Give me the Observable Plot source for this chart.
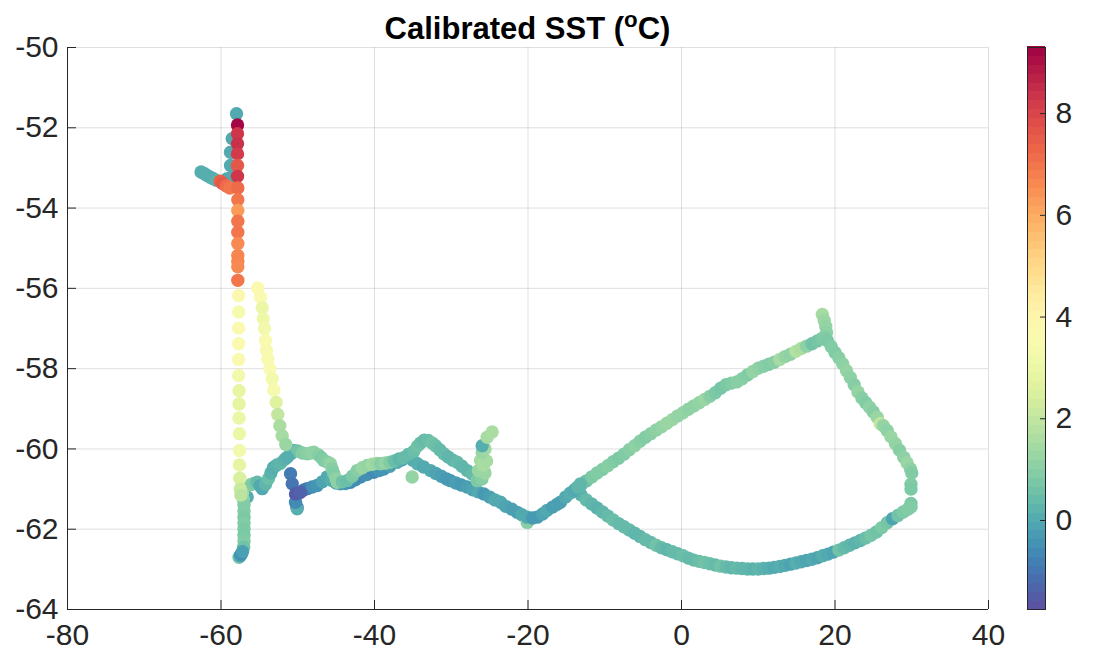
<!DOCTYPE html>
<html><head><meta charset="utf-8">
<script src="https://cdn.jsdelivr.net/npm/d3@7"></script>
<script src="https://cdn.jsdelivr.net/npm/@observablehq/plot@0.6"></script>
<style>
body{margin:0;background:#fff;}
#wrap{position:relative;width:1102px;height:660px;font-family:"Liberation Sans",Arial,sans-serif;overflow:hidden;}
#main,#cbar{position:absolute;top:0;}
#main{left:0;} #cbar{left:1000px;}
#title{position:absolute;left:67px;width:921px;top:11px;text-align:center;font-weight:bold;font-size:31px;color:#000;line-height:36px;}
#title sup{font-size:0.72em;line-height:0;position:relative;top:-0.05em;}
#wrap svg g[aria-label$="tick label"], #wrap svg g[aria-label$="tick label"] text{font-size:30px !important;}
</style></head><body>
<div id="wrap"><div id="main"></div><div id="cbar"></div><div id="title">Calibrated SST (<sup>o</sup>C)</div></div>
<script>
// axis ticks
const xTicks = [-80, -60, -40, -20, 0, 20, 40];
const yTicks = [-64, -62, -60, -58, -56, -54, -52, -50];
const cbTicks = [0, 2, 4, 6, 8];
const sstRange = [-1.75, 9.3];

// track segments: [lon, lat, SST]
const northLeg = [
[-57.98,-51.65,0.0],[-58.54,-52.27,0.0],[-58.76,-52.61,0.0],[-58.76,-52.94,0.0],[-58.76,-53.26,0.0],
[-62.6,-53.10,0.1],[-62.2,-53.14,0.1],[-61.8,-53.19,0.1],[-61.4,-53.23,0.1],[-61.0,-53.27,0.1],[-60.6,-53.31,0.2],[-59.2,-53.27,0.0],
[-57.85,-51.93,9.2],[-57.85,-52.15,8.3],[-57.85,-52.40,8.4],[-57.85,-52.65,8.2],[-57.85,-52.94,7.6],[-57.85,-53.21,8.3],
[-60.1,-53.33,7.4],[-59.84,-53.38,7.6],[-59.3,-53.45,7.2],[-58.85,-53.50,7.0],
[-57.81,-53.50,7.2],[-57.81,-53.79,7.0],[-57.81,-54.06,6.3],[-57.81,-54.33,7.0],[-57.81,-54.60,7.0],[-57.81,-54.88,6.6],
[-57.81,-55.18,6.7],[-57.81,-55.33,6.7],[-57.81,-55.46,6.6],[-57.81,-55.80,7.0]
];
const yellowLeg = [
[-57.7,-56.18,3.9],[-57.7,-56.59,3.4],[-57.7,-56.99,3.8],[-57.7,-57.38,3.7],[-57.7,-57.77,3.7],[-57.7,-58.17,3.3],
[-57.65,-58.55,2.9],[-57.65,-58.88,2.8],[-57.65,-59.23,3.0],[-57.6,-59.62,3.0],[-57.6,-60.04,3.3],[-57.6,-60.40,2.8],
[-57.55,-60.73,2.5],[-57.5,-61.00,2.2],[-57.4,-61.15,1.9]
];
const greenLeg = [
[-57.2,-61.10,1.5],[-57.1,-61.25,1.1],[-57.0,-61.40,0.9],[-57.0,-61.55,0.9],[-57.0,-61.70,0.8],[-57.0,-61.85,0.9],
[-57.0,-62.00,0.8],[-57.0,-62.15,0.8],[-57.0,-62.30,0.9],[-57.05,-62.45,0.6],[-57.65,-62.70,0.7],
[-57.5,-62.66,-0.2],[-57.35,-62.62,-0.5],[-57.2,-62.56,-0.2]
];
const connector = [
[-56.59,-61.20,0.1],[-56.16,-60.89,0.9],[-55.7,-60.86,0.8],[-55.28,-60.83,0.4],[-54.9,-60.92,0.0],[-54.63,-60.99,0.0],
[-54.2,-60.88,0.3],[-53.81,-60.74,0.5],[-53.5,-60.60,0.2],[-53.16,-60.46,0.1],[-52.7,-60.40,0.2],[-52.25,-60.36,0.3],
[-51.7,-60.26,0.2],[-51.37,-60.21,0.1]
];
const secondLeg = [
[-55.20,-55.99,3.8],[-54.85,-56.22,3.7],[-54.63,-56.48,3.0],[-54.50,-56.76,3.1],[-54.33,-57.00,3.3],[-54.20,-57.30,3.5],
[-54.07,-57.55,3.6],[-53.90,-57.76,3.5],[-53.64,-58.00,3.5],[-53.33,-58.25,3.3],[-53.12,-58.53,3.4],[-52.81,-58.84,2.6],
[-52.60,-59.14,2.0],[-52.34,-59.42,1.6],[-52.03,-59.67,1.5],[-51.56,-59.89,1.3]
];
const upperLoop = [
[-50.9,-60.12,0.2],[-50.51,-60.04,0.3],[-50.0,-60.05,0.6],[-49.4,-60.10,0.9],[-48.77,-60.12,1.0],[-48.3,-60.10,1.1],
[-47.91,-60.08,1.1],[-47.3,-60.15,1.0],[-46.9,-60.22,0.8],[-46.61,-60.29,0.9],[-46.1,-60.33,1.0],[-45.73,-60.37,1.2],
[-45.5,-60.50,1.0],[-45.30,-60.62,0.9],[-45.0,-60.75,1.1],[-44.86,-60.83,1.1],[-44.2,-60.82,0.6],[-43.56,-60.79,0.5],
[-42.9,-60.68,0.8],[-42.26,-60.54,1.0],[-41.6,-60.47,1.3],[-40.95,-60.41,1.2],[-40.3,-60.38,1.4],[-39.7,-60.36,1.3],
[-39.22,-60.37,1.0],[-38.6,-60.35,1.2],[-38.0,-60.33,0.9],[-37.4,-60.30,0.5],[-36.8,-60.25,0.3],[-36.2,-60.22,0.4],
[-35.6,-60.14,0.4],[-34.88,-60.06,0.5],[-34.4,-59.93,0.6],[-34.0,-59.85,0.5],[-33.5,-59.78,0.4],[-33.0,-59.79,0.5],
[-32.5,-59.85,0.6],[-32.05,-59.92,0.5],[-31.5,-60.02,0.4],[-30.97,-60.12,0.4],[-30.4,-60.20,0.3],[-29.8,-60.28,0.3],
[-29.23,-60.33,0.4],[-28.6,-60.43,0.3],[-27.93,-60.54,0.3],[-27.3,-60.62,0.4],[-26.6,-60.72,0.5],[-35.1,-60.70,1.2]
];
const blueHook = [
[-50.94,-60.62,-0.9],[-50.72,-60.87,-1.0],[-50.1,-61.45,-1.6],[-50.07,-61.49,0.1],[-50.29,-61.33,-0.6],
[-50.29,-61.12,-1.5],[-49.9,-61.10,-1.5],[-49.64,-61.08,-1.4]
];
const lowerPath = [
[-49.2,-61.02,-1.0],[-48.77,-60.99,-0.9],[-48.1,-60.95,-0.5],[-47.47,-60.91,-0.4],[-46.8,-60.82,-0.1],[-46.17,-60.70,0.0],
[-45.6,-60.78,0.1],[-45.0,-60.85,-0.1],[-44.43,-60.87,-0.2],[-43.8,-60.86,-0.4],[-43.13,-60.83,-0.6],[-42.5,-60.77,-0.5],
[-41.82,-60.70,-0.6],[-41.0,-60.64,-0.5],[-40.09,-60.58,-0.6],[-39.4,-60.54,-0.4],[-38.79,-60.50,-0.4],[-38.0,-60.43,-0.2],
[-37.04,-60.33,0.0],[-36.4,-60.27,-0.1],[-35.74,-60.21,-0.1],[-35.0,-60.28,0.0],[-34.4,-60.37,0.1],[-33.6,-60.45,0.0],
[-32.7,-60.54,0.0],[-32.0,-60.61,-0.1],[-31.3,-60.68,-0.2],[-30.6,-60.75,-0.3],[-30.1,-60.79,-0.3],[-29.4,-60.85,-0.2],
[-28.7,-60.90,-0.3],[-27.93,-60.95,-0.2],[-27.2,-61.02,-0.1],[-26.5,-61.07,0.0],[-25.76,-61.12,-0.3],[-25.0,-61.20,-0.2],
[-24.3,-61.27,0.0],[-23.58,-61.33,0.0],[-22.9,-61.43,-0.1],[-22.1,-61.50,-0.2],[-21.41,-61.58,-0.2],[-20.8,-61.64,0.0],
[-20.10,-61.83,1.0],[-20.10,-61.70,0.0],[-19.4,-61.72,-0.3],[-18.80,-61.70,-0.3],[-18.1,-61.62,-0.1],[-17.50,-61.53,0.0],
[-16.8,-61.45,-0.2],[-16.2,-61.38,-0.2],[-15.77,-61.33,-0.2],[-15.1,-61.20,0.0],[-14.5,-61.10,0.1],[-14.03,-61.04,0.0],
[-13.5,-60.95,0.3],[-13.16,-60.87,0.3]
];
const spike = [
[-26.62,-60.79,0.8],[-26.0,-60.75,1.0],[-26.45,-60.54,1.3],[-25.6,-60.60,1.3],[-26.19,-60.29,1.5],[-25.8,-60.40,1.6],
[-25.4,-60.30,1.5],[-25.97,-60.09,1.3],[-25.6,-60.00,1.4],[-25.97,-59.92,0.1],[-25.32,-59.71,1.5],[-24.67,-59.58,1.6]
];
const upperArc = [
[-13.8,-61.00,0.3],[-13.1,-60.90,0.4],[-12.4,-60.80,0.6],[-11.7,-60.70,0.8],[-11.0,-60.60,0.9],[-10.3,-60.51,0.9],
[-9.6,-60.42,1.0],[-8.9,-60.32,0.9],[-8.2,-60.23,0.8],[-7.5,-60.13,0.9],[-6.8,-60.02,1.0],[-6.1,-59.92,1.1],
[-5.4,-59.81,1.0],[-4.7,-59.71,0.9],[-4.0,-59.62,1.0],[-3.3,-59.53,1.1],[-2.6,-59.45,1.2],[-1.9,-59.36,1.3],
[-1.2,-59.27,1.3],[-0.5,-59.18,1.2],[0.2,-59.10,1.2],[0.9,-59.01,1.1],[1.6,-58.93,1.1],[2.3,-58.85,1.2],
[3.0,-58.77,1.3],[3.7,-58.69,1.0],[4.4,-58.60,0.8],[5.1,-58.49,0.7],[5.8,-58.40,0.8],[6.5,-58.36,0.9],
[7.2,-58.33,1.0],[7.9,-58.25,1.0],[8.6,-58.16,0.9],[9.3,-58.07,1.2],[10.0,-57.99,1.1],[10.7,-57.94,1.0],
[11.4,-57.89,0.9],[12.1,-57.84,1.0],[12.8,-57.77,1.5],[13.5,-57.70,1.2],[14.2,-57.64,1.1],[14.9,-57.57,1.7],
[15.6,-57.50,1.6],[16.3,-57.44,1.1],[17.0,-57.38,0.6],[17.7,-57.31,0.7],[18.3,-57.25,0.8]
];
const eastLeg = [
[18.35,-56.65,1.5],[18.6,-56.80,1.3],[18.8,-56.95,1.2],[18.9,-57.10,1.1],[18.7,-57.22,0.9],
[19.0,-57.30,0.8],[19.5,-57.45,0.9],[20.0,-57.60,0.9],[20.5,-57.73,1.0],[21.0,-57.88,1.1],[21.5,-58.05,1.2],
[22.0,-58.22,1.1],[22.5,-58.40,1.0],[23.0,-58.58,1.2],[23.5,-58.73,1.0],[24.0,-58.85,0.9],[24.5,-58.96,1.1],
[25.0,-59.08,1.0],[25.5,-59.21,1.3],[25.9,-59.37,2.0],[26.3,-59.42,1.2],[26.8,-59.54,1.1],[27.3,-59.70,1.3],
[27.88,-59.87,1.2],[28.4,-60.03,1.0],[28.96,-60.21,1.1],[29.4,-60.35,1.3],[29.84,-60.50,1.1],[30.0,-60.60,0.9],
[29.9,-60.88,0.9],[29.9,-61.00,0.8],[29.9,-61.36,0.8],[29.9,-61.45,0.9]
];
const lowerArc = [
[-13.1,-61.14,0.2],[-12.4,-61.27,0.4],[-11.7,-61.37,0.3],[-11.0,-61.47,0.2],[-10.3,-61.57,0.3],[-9.6,-61.67,0.4],
[-8.9,-61.77,0.5],[-8.2,-61.86,0.4],[-7.5,-61.94,0.4],[-6.8,-62.02,0.4],[-6.1,-62.10,0.3],[-5.4,-62.18,0.3],
[-4.7,-62.26,0.4],[-4.0,-62.33,0.4],[-3.3,-62.40,0.6],[-2.6,-62.46,0.4],[-1.9,-62.51,0.3],[-1.2,-62.56,0.4],
[-0.5,-62.61,0.4],[0.2,-62.66,0.5],[0.9,-62.72,0.4],[1.6,-62.77,0.4],[2.3,-62.80,0.5],[3.0,-62.83,0.6],
[3.7,-62.86,0.5],[4.4,-62.89,0.4],[5.1,-62.92,0.6],[5.8,-62.94,0.4],[6.5,-62.96,0.3],[7.2,-62.97,0.4],
[7.9,-62.98,0.3],[8.6,-62.99,0.3],[9.3,-62.99,0.2],[10.0,-62.99,0.3],[10.7,-62.98,0.2],[11.4,-62.97,0.1],
[12.1,-62.95,0.0],[12.8,-62.93,0.1],[13.5,-62.90,0.0],[14.2,-62.87,-0.1],[14.9,-62.84,0.1],[15.6,-62.81,0.0],
[16.3,-62.78,-0.1],[17.0,-62.75,0.0],[17.7,-62.71,-0.1],[18.4,-62.66,0.1],[19.1,-62.62,0.0],[19.8,-62.57,-0.1],
[20.5,-62.52,0.6],[21.2,-62.46,0.4],[21.9,-62.40,0.3],[22.6,-62.34,0.2],[23.3,-62.28,0.3],[24.0,-62.22,0.5],
[24.7,-62.15,0.7],[25.4,-62.07,0.6],[26.1,-61.96,0.8],[26.8,-61.84,0.7],[27.5,-61.74,-0.1],[28.2,-61.66,0.6],
[28.9,-61.57,0.8],[29.5,-61.50,0.9]
];

const segments = [lowerArc, upperArc, eastLeg, lowerPath, upperLoop, spike, blueHook, connector, secondLeg, greenLeg, yellowLeg, northLeg];
const rows = segments.flat().map(([lon, lat, sst]) => ({lon, lat, sst}));

const ink = "#262626";
const colorOpts = {type: "linear", scheme: "spectral", reverse: true, domain: sstRange};
const fmt = d => String(d);

const W = 1102, H = 660, mL = 67, mR = 114, mT = 47, mB = 51;
const frameW = W - mL - mR, frameH = H - mT - mB, tickLen = 9;
const fontFam = '"Liberation Sans", Arial, sans-serif';

const main = Plot.plot({
  width: W, height: H, marginLeft: mL, marginRight: mR, marginTop: mT, marginBottom: mB,
  style: {fontFamily: fontFam, fontSize: "30px", color: ink, background: "white"},
  x: {domain: [-80, 40], label: null},
  y: {domain: [-64, -50], label: null},
  color: colorOpts,
  marks: [
    Plot.gridX(xTicks, {stroke: ink, strokeOpacity: 0.15}),
    Plot.gridY(yTicks, {stroke: ink, strokeOpacity: 0.15}),
    Plot.dot(rows, {x: "lon", y: "lat", fill: "sst", r: 6.7, stroke: null}),
    Plot.ruleX([xTicks[0]], {stroke: ink}),
    Plot.ruleY([yTicks[0]], {stroke: ink}),
    Plot.tickX(xTicks, {x: d => d, insetTop: frameH - tickLen, stroke: ink}),
    Plot.tickY(yTicks, {y: d => d, insetRight: frameW - tickLen, stroke: ink}),
    Plot.axisX({ticks: xTicks, tickSize: 0, tickPadding: 14, fontSize: 30, tickFormat: fmt, label: null}),
    Plot.axisY({ticks: yTicks, tickSize: 0, tickPadding: 9, fontSize: 30, tickFormat: fmt, label: null})
  ]
});
document.getElementById("main").appendChild(main);

const nSteps = 64;
const step = (sstRange[1] - sstRange[0]) / nSteps;
const cbBands = d3.range(nSteps).map(i => sstRange[0] + (i + 0.5) * step);
const cbW = 18;
const cbar = Plot.plot({
  width: 102, height: H, marginLeft: 27, marginRight: 102 - 27 - cbW, marginTop: mT, marginBottom: mB,
  style: {fontFamily: fontFam, fontSize: "30px", color: ink, background: "transparent"},
  x: {domain: [0, 1], axis: null},
  y: {domain: sstRange, axis: null},
  color: colorOpts,
  marks: [
    Plot.rect(cbBands, {x1: 0, x2: 1, y1: d => d - step / 2 - 0.01, y2: d => d + step / 2 + 0.01, fill: d => d, shapeRendering: "crispEdges"}),
    Plot.frame({stroke: ink, strokeWidth: 1}),
    Plot.tickY(cbTicks, {y: d => d, insetLeft: cbW - 5, stroke: ink}),
    Plot.axisY({ticks: cbTicks, anchor: "right", tickSize: 0, tickPadding: 10, fontSize: 30, tickFormat: fmt, label: null})
  ]
});
document.getElementById("cbar").appendChild(cbar);
</script>
</body></html>
